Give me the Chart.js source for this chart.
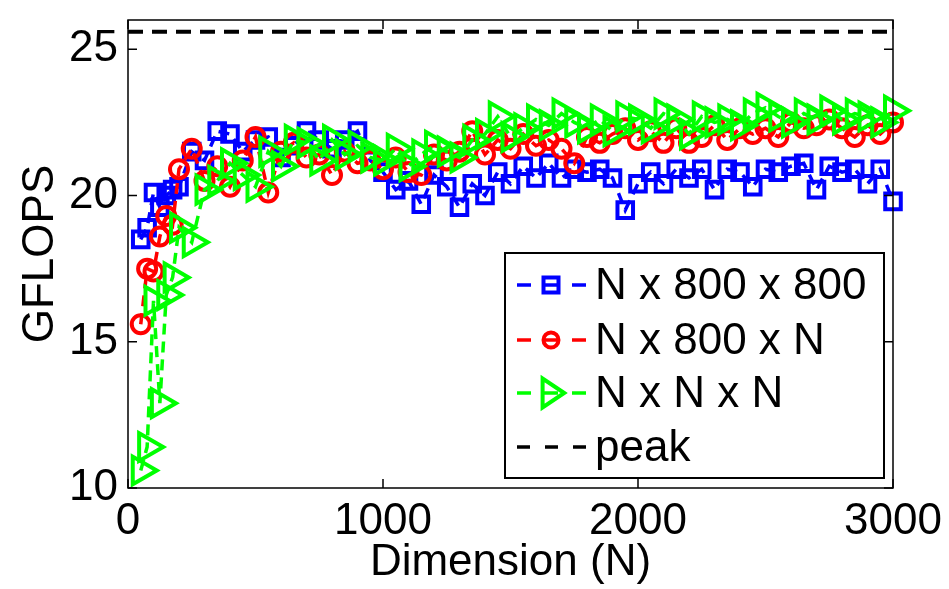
<!DOCTYPE html>
<html>
<head>
<meta charset="utf-8">
<script src="https://cdn.jsdelivr.net/npm/chart.js@4.4.1/dist/chart.umd.min.js"></script>
<style>
  html, body { margin: 0; padding: 0; background: #fff; }
  #wrap { width: 949px; height: 589px; position: relative; }
</style>
</head>
<body>
<div id="wrap"><canvas id="myChart"></canvas></div>
<script>
// matrix dimension N
const dims = [50, 75, 100, 125, 150, 175, 200,
  250, 300, 350, 400, 450, 500, 550, 600, 650, 700,
  750, 800, 850, 900, 950, 1000, 1050, 1100, 1150, 1200,
  1250, 1300, 1350, 1400, 1450, 1500, 1550, 1600, 1650, 1700,
  1750, 1800, 1850, 1900, 1950, 2000, 2050, 2100, 2150, 2200,
  2250, 2300, 2350, 2400, 2450, 2500, 2550, 2600, 2650, 2700,
  2750, 2800, 2850, 2900, 2950, 3000];

// GFLOPS per case
const nx800x800 = [18.5, 18.9, 20.1, 19.6, 20.0, 20.2, 20.3,
  21.5, 21.2, 22.2, 22.1, 21.5, 21.9, 22.0, 21.3, 21.7, 22.2,
  21.9, 21.6, 21.9, 22.2, 21.2, 20.8, 20.2, 20.5, 19.7, 20.7,
  20.3, 19.6, 20.4, 20.0, 20.8, 20.4, 21.0, 20.6, 21.1, 20.6,
  20.9, 20.8, 20.9, 20.6, 19.5, 20.4, 20.8, 20.4, 20.9, 20.6,
  20.9, 20.2, 20.9, 20.8, 20.3, 20.9, 20.8, 21.0, 21.1, 20.2,
  21.0, 20.8, 20.9, 20.4, 20.9, 19.8];

const nx800xN = [15.6, 17.5, 17.4, 18.6, 19.3, 19.0, 20.9,
  21.6, 20.5, 21.0, 20.3, 21.2, 22.0, 20.1, 21.5, 21.8, 21.3,
  21.4, 20.7, 21.5, 21.1, 21.2, 20.9, 21.3, 20.8, 20.7, 21.4,
  21.2, 21.5, 22.2, 21.4, 21.9, 21.6, 22.1, 21.7, 21.9, 21.6,
  21.1, 22.0, 21.8, 22.1, 22.3, 21.9, 22.2, 21.8, 22.3, 21.8,
  22.0, 22.4, 21.9, 22.3, 22.1, 22.3, 22.0, 22.5, 22.3, 22.4,
  22.6, 22.3, 22.0, 22.4, 22.1, 22.5];

const nxNxN = [10.6, 11.4, 16.4, 12.9, 16.6, 17.2, 18.9,
  18.4, 20.2, 20.5, 21.1, 20.7, 20.3, 21.5, 21.0, 21.9, 21.8,
  21.2, 21.9, 21.4, 21.7, 21.3, 21.2, 21.6, 21.0, 21.4, 21.7,
  21.5, 21.3, 21.9, 22.1, 22.7, 22.0, 22.3, 22.6, 22.4, 22.8,
  22.5, 22.3, 22.6, 22.2, 22.7, 22.6, 22.3, 22.8, 22.6, 22.1,
  22.7, 22.5, 22.6, 22.4, 22.8, 23.0, 22.7, 22.5, 22.8, 22.6,
  22.9, 22.6, 22.8, 22.7, 22.5, 22.9];

const peakGflops = 25.6;
const xTicks = [0, 1000, 2000, 3000];
const yTicks = [10, 15, 20, 25];
const labels = ["N x 800 x 800", "N x 800 x N", "N x N x N", "peak"];

const FONT = "'Liberation Sans', Arial, Helvetica, sans-serif";

function pts(arr) {
  return dims.map((n, i) => ({ x: n, y: arr[i] }));
}

function series(label, arr, color, style, radius, order) {
  return {
    label: label,
    data: pts(arr),
    borderColor: color,
    backgroundColor: "rgba(0,0,0,0)",
    borderWidth: 3.5,
    borderDash: [11, 7],
    pointStyle: style,
    pointRadius: radius,
    pointBorderWidth: 4,
    pointBorderColor: color,
    pointBackgroundColor: "rgba(0,0,0,0)",
    pointRotation: style === "triangle" ? 90 : 0,
    tension: 0,
    clip: false,
    order: order,
  };
}

// legend marker
function marker(ctx, style, cx, cy, r) {
  ctx.beginPath();
  if (style === "rect") {
    ctx.rect(cx - r, cy - r, 2 * r, 2 * r);
  } else if (style === "circle") {
    ctx.arc(cx, cy, r, 0, Math.PI * 2);
  } else {
    ctx.moveTo(cx + r * 1.1, cy);
    ctx.lineTo(cx - r * 0.7, cy - r * 1.2);
    ctx.lineTo(cx - r * 0.7, cy + r * 1.2);
    ctx.closePath();
  }
  ctx.stroke();
}

const frame = {
  id: "frame",
  afterDraw(chart) {
    const { ctx, chartArea: a, scales } = chart;
    const x = scales.x, y = scales.y;
    ctx.save();
    ctx.strokeStyle = "#000";
    ctx.lineWidth = 1.5;
    ctx.setLineDash([]);
    ctx.strokeRect(a.left, a.top, a.right - a.left, a.bottom - a.top);
    ctx.beginPath();
    xTicks.forEach((v) => {
      const px = x.getPixelForValue(v);
      ctx.moveTo(px, a.bottom); ctx.lineTo(px, a.bottom - 9);
      ctx.moveTo(px, a.top); ctx.lineTo(px, a.top + 9);
    });
    yTicks.forEach((v) => {
      const py = y.getPixelForValue(v);
      ctx.moveTo(a.left, py); ctx.lineTo(a.left + 9, py);
      ctx.moveTo(a.right, py); ctx.lineTo(a.right - 9, py);
    });
    ctx.stroke();

    // legend box
    const bx = 505, by = 253, bw = 379, bh = 225;
    ctx.fillStyle = "#fff";
    ctx.fillRect(bx, by, bw, bh);
    ctx.lineWidth = 2;
    ctx.strokeRect(bx, by, bw, bh);

    const rows = [285, 340, 393, 447];
    const ds = chart.data.datasets;
    ctx.font = "44px " + FONT;
    ctx.textBaseline = "middle";
    ctx.textAlign = "left";
    ds.forEach((d, i) => {
      const cy = rows[i];
      ctx.strokeStyle = d.borderColor;
      ctx.lineWidth = 3.5;
      ctx.setLineDash([]);
      ctx.beginPath();
      if (d.pointStyle === false) {
        [517, 545, 573].forEach((s) => { ctx.moveTo(s, cy); ctx.lineTo(s + 13, cy); });
      } else {
        ctx.moveTo(517, cy); ctx.lineTo(531, cy);
        ctx.moveTo(572, cy); ctx.lineTo(586, cy);
      }
      ctx.stroke();
      if (d.pointStyle !== false) {
        ctx.beginPath();
        ctx.moveTo(544, cy); ctx.lineTo(558, cy);
        ctx.stroke();
        ctx.lineWidth = 4;
        marker(ctx, d.pointStyle, 551, cy, d.pointStyle === "triangle" ? 12 : 7.5);
      }
      ctx.fillStyle = "#000";
      ctx.fillText(d.label, 595, cy + 2);
    });
    ctx.restore();
  },
};

const ctx = document.getElementById("myChart");

new Chart(ctx, {
  type: "line",
  data: {
    datasets: [
      series(labels[0], nx800x800, "#0000ff", "rect", 11, 3),
      series(labels[1], nx800xN, "#ff0000", "circle", 9, 2),
      series(labels[2], nxNxN, "#00ff00", "triangle", 16, 1),
      {
        label: labels[3],
        data: [{ x: xTicks[0], y: peakGflops }, { x: xTicks[xTicks.length - 1], y: peakGflops }],
        borderColor: "#000",
        borderWidth: 4,
        borderDash: [15, 9],
        pointStyle: false,
        pointRadius: 0,
        order: 4,
      },
    ],
  },
  options: {
    responsive: true,
    maintainAspectRatio: false,
    animation: false,
    layout: { padding: { top: 12, right: 56, left: 0, bottom: 0 } },
    plugins: {
      legend: { display: false },
      tooltip: { enabled: false },
    },
    scales: {
      x: {
        type: "linear",
        min: 0,
        max: 3000,
        grid: { display: false, drawTicks: false },
        border: { display: false },
        ticks: {
          stepSize: 1000,
          includeBounds: false,
          padding: 7,
          color: "#000",
          font: { family: FONT, size: 44 },
          maxRotation: 0,
          callback: (v) => String(v),
        },
        title: {
          display: true,
          text: "Dimension (N)",
          color: "#000",
          font: { family: FONT, size: 44 },
          padding: { top: 0, bottom: 0 },
        },
        afterFit(scale) {
          scale.height = 101;
          scale.paddingLeft = 0;
          scale.paddingRight = 0;
        },
      },
      y: {
        min: 10,
        max: 26,
        grid: { display: false, drawTicks: false },
        border: { display: false },
        ticks: {
          stepSize: 5,
          includeBounds: false,
          padding: 10,
          color: "#000",
          font: { family: FONT, size: 44 },
          callback: (v) => String(v),
        },
        title: {
          display: true,
          text: "GFLOPS",
          color: "#000",
          font: { family: FONT, size: 44 },
          padding: { top: 14, bottom: 0 },
        },
        afterFit(scale) {
          scale.width = 128;
          scale.paddingTop = 0;
          scale.paddingBottom = 0;
        },
      },
    },
  },
  plugins: [frame],
});
</script>
</body>
</html>
